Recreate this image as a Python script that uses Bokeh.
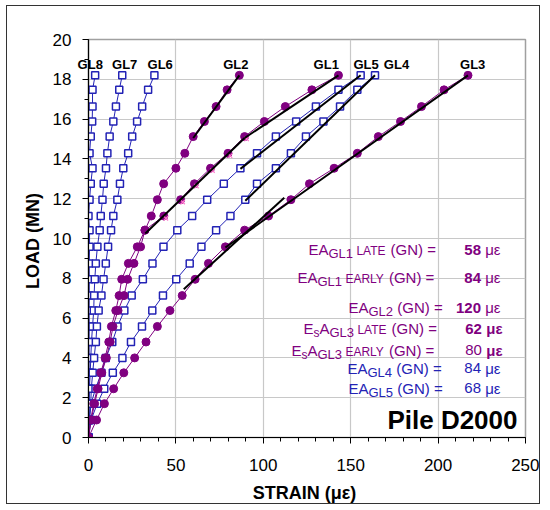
from bokeh.plotting import figure
from bokeh.models import Label, FixedTicker
from bokeh.embed import file_html
from bokeh.resources import INLINE

# ---------------- data ----------------
LOAD = [0, 0.88, 1.7, 2.45, 3.25, 4.0, 4.8, 5.58, 6.38, 7.13, 7.95, 8.75,
        9.58, 10.42, 11.13, 11.95, 12.75, 13.53, 14.28, 15.12, 15.88, 16.63, 17.47, 18.2]

GL1 = [0, 1.5, 3.5, 5.5, 7.6, 10.2, 12.4, 14.0, 16.9, 20.3, 22.4, 26.0,
       29.8, 32.3, 43.1, 52.7, 60.6, 69.8, 79.8, 89.3, 100.6, 112.6, 127.8, 143.0]
GL2 = [0, 1.2, 3.0, 5.0, 7.0, 9.5, 11.6, 13.1, 15.6, 17.5, 19.0, 22.8,
       27.9, 32.3, 35.9, 39.4, 43.0, 50.0, 55.1, 59.9, 66.3, 73.0, 79.3, 86.3]
GL3 = [0, 4.6, 9.1, 14.4, 20.2, 26.4, 32.9, 39.4, 46.6, 53.6, 61.0, 68.6,
       78.3, 89.3, 103.0, 115.8, 126.4, 140.5, 153.8, 165.8, 178.5, 190.5, 203.4, 217.1]
GL4 = [0, 1.5, 5.0, 9.0, 13.9, 19.4, 24.3, 30.6, 36.5, 42.6, 50.2, 57.9,
       64.6, 73.0, 81.2, 89.7, 96.4, 107.2, 115.8, 124.4, 134.4, 143.9, 153.8, 163.9]
GL5 = [0, 0.5, 1.5, 4.0, 7.4, 9.9, 13.6, 16.6, 20.5, 24.7, 31.1, 36.6,
       42.9, 50.8, 59.3, 67.9, 77.4, 86.9, 96.4, 107.2, 118.8, 130.1, 143.0, 155.7]
GL6 = [0, 0.4, 1.3, 1.6, 2.4, 3.2, 4.2, 4.8, 5.8, 7.4, 8.6, 9.9,
       11.2, 12.9, 14.2, 16.5, 18.0, 19.9, 22.7, 25.0, 27.8, 30.7, 34.1, 37.7]
GL7 = [0, 0.2, 0.3, 0.5, 1.0, 1.3, 1.7, 2.3, 3.0, 3.2, 3.6, 4.2,
       5.1, 6.4, 7.0, 8.0, 8.7, 10.0, 10.8, 12.1, 14.2, 15.7, 17.6, 19.3]
GL8 = [0, 0.2, 0.3, 0.3, 0.3, 0.3, 0.3, 0.4, 0.3, 0.4, 0.4, 0.4,
       0.6, 0.6, 0.0, 0.6, 1.3, 2.3, 0.6, 1.3, 2.1, 2.3, 2.3, 3.8]

# pink cross markers on part of GL1 (indices into LOAD)
GL1_PINK_IDX = [14, 15, 16, 17, 18, 19]

# fitted straight lines (strain pairs, load pairs)
FIT_GL1_LATE = ([89.3, 143.0], [15.05, 18.2])
FIT_GL1_EARLY = ([32.5, 89.3], [10.25, 15.05])
FIT_GL2 = ([59.9, 86.3], [15.05, 18.2])
FIT_GL3_LATE = ([78.3, 217.1], [9.55, 18.2])
FIT_GL3_EARLY = ([54.5, 112.0], [7.45, 12.05])
FIT_GL4 = ([89.7, 163.9], [11.9, 18.2])
FIT_GL5 = ([86.9, 155.7], [13.5, 18.2])

GL_NAMES = ["GL8", "GL7", "GL6", "GL2", "GL1", "GL5", "GL4", "GL3"]
GL_NAME_X = [1.0, 20.7, 41.0, 84.3, 136.0, 158.8, 176.2, 219.8]
GL_NAME_Y = 18.5

EA_VALUES = ["58", "84", "120", "62", "80", "84", "68"]

X_TICKS = [0, 50, 100, 150, 200, 250]
Y_TICKS = [0, 2, 4, 6, 8, 10, 12, 14, 16, 18, 20]

# ---------------- style ----------------
PURPLE = "#800080"
BLUE = "#2323B5"
PINK = "#FF77CC"
FONT = "Liberation Sans"

W, H = 534, 499
OX, OY = 7, 6                       # figure origin on page
FL, FR, FT, FB = 81, 518, 33, 432   # frame edges inside figure

p = figure(width=W, height=H, x_range=(0, 250), y_range=(0, 20),
           output_backend="svg", toolbar_location=None,
           min_border_left=FL, min_border_right=W - FR,
           min_border_top=FT, min_border_bottom=H - FB)
p.margin = (OY - 1, 0, 0, OX - 1)
p.styles = {"border": "1px solid #333333"}
p.outline_line_color = "#A0A0A0"
p.outline_line_width = 1.5
p.background_fill_color = "white"
p.border_fill_color = "white"

p.xaxis.ticker = FixedTicker(ticks=X_TICKS, minor_ticks=list(range(0, 251, 10)))
p.yaxis.ticker = FixedTicker(ticks=Y_TICKS, minor_ticks=list(range(0, 21, 1)))
p.xgrid.ticker = FixedTicker(ticks=X_TICKS)
p.ygrid.ticker = FixedTicker(ticks=Y_TICKS)
for g in (p.xgrid, p.ygrid):
    g.grid_line_color = "#C8C8C8"
    g.grid_line_width = 1.2

for ax in (p.xaxis, p.yaxis):
    ax.axis_line_color = "black"
    ax.axis_line_width = 1.2
    ax.major_tick_in = 0
    ax.major_tick_out = 6
    ax.minor_tick_in = 0
    ax.minor_tick_out = 4
    ax.major_tick_line_color = "black"
    ax.minor_tick_line_color = "black"
    ax.major_label_text_font = FONT
    ax.major_label_text_font_size = "17px"
    ax.major_label_text_color = "black"
    ax.axis_label_text_font = FONT
    ax.axis_label_text_font_size = "18px"
    ax.axis_label_text_font_style = "bold"
    ax.axis_label_text_color = "black"
p.xaxis.axis_label = "STRAIN  (με)"
p.yaxis.axis_label = "LOAD  (MN)"
p.xaxis.major_label_standoff = 15
p.yaxis.major_label_standoff = 11
p.xaxis.axis_label_standoff = 9
p.yaxis.axis_label_standoff = 7

# ---------------- series ----------------
for s in (GL8, GL7, GL6, GL5, GL4):
    p.line(s, LOAD, line_color=BLUE, line_width=1)
for s in (GL3, GL2, GL1):
    p.line(s, LOAD, line_color=PURPLE, line_width=1)

for s in (GL8, GL7, GL6, GL5, GL4):
    p.scatter(s, LOAD, marker="square", size=7, fill_color="white",
              line_color=BLUE, line_width=1.5)
for s in (GL3, GL2, GL1):
    p.scatter(s, LOAD, marker="circle", size=8, fill_color=PURPLE,
              line_color=PURPLE)
p.scatter([GL1[i] + 1.2 for i in GL1_PINK_IDX], [LOAD[i] - 0.12 for i in GL1_PINK_IDX],
          marker="x", size=6, line_color=PINK, line_width=1.2)

for fx, fy in (FIT_GL1_LATE, FIT_GL1_EARLY, FIT_GL2, FIT_GL3_LATE,
               FIT_GL3_EARLY, FIT_GL4, FIT_GL5):
    p.line(fx, fy, line_color="black", line_width=2)

# ---------------- text helpers ----------------
REG = {' ': 278, '(': 333, ')': 333, '=': 584, 'A': 667, 'E': 667, 'G': 778,
       'L': 556, 'N': 722, 'R': 722, 'T': 611, 'Y': 667, 's': 500,
       'μ': 576, 'ε': 446}
BLD = {' ': 278, 'μ': 611, 'ε': 489}
MID = 0.35   # distance from baseline to text middle, in em


def tw(t, size, bold):
    tab = BLD if bold else REG
    return sum(tab.get(c, 556) for c in t) * size / 1000.0


def X(px):
    return (px - OX - FL) * 250.0 / (FR - FL)


def Y(py):
    return (OY + FB - py) * 20.0 / (FB - FT)


def put(px, py, txt, size, bold, color, align="left"):
    """py is the text baseline in page pixels"""
    p.add_layout(Label(x=X(px), y=Y(py - MID * size), text=txt, text_font=FONT,
                       text_font_size=f"{size}px",
                       text_font_style="bold" if bold else "normal",
                       text_color=color, text_align=align,
                       text_baseline="middle"))


def flow(cx, py, txt, size, bold, color):
    """place text left-aligned at cx, honouring leading spaces; return new cx"""
    stripped = txt.lstrip(" ")
    cx += tw(txt[:len(txt) - len(stripped)], size, bold)
    put(cx, py, stripped, size, bold, color)
    return cx + tw(stripped, size, bold)


# gauge names above the curves; the one that overhangs the y axis goes in the
# top panel so it is not clipped by the frame
GL_SIZE = 13
for name, gx in zip(GL_NAMES, GL_NAME_X):
    gy_page = OY + FB - GL_NAME_Y * (FB - FT) / 20.0
    lbl = Label(x=gx, y=Y(gy_page - MID * GL_SIZE), text=name, text_font=FONT,
                text_font_size=f"{GL_SIZE}px", text_font_style="bold",
                text_align="center", text_baseline="middle", text_color="black")
    if gx - tw(name, GL_SIZE, True) / 2 * 250.0 / (FR - FL) < 0:
        p.add_layout(lbl, "above")
    else:
        p.add_layout(lbl)

LINES = [
    # start x, baseline, subscript, qualifier, num bold, unit bold, right edge, colour, E_s form
    (308, 255, "GL1", " LATE", True, False, 500, PURPLE, False),
    (297, 283, "GL1", " EARLY", True, False, 500, PURPLE, False),
    (348, 313, "GL2", "", True, False, 500, PURPLE, False),
    (303, 334, "GL3", " LATE", True, True, 502, PURPLE, True),
    (291, 356, "GL3", " EARLY", False, True, 502, PURPLE, True),
    (347, 374, "GL4", "", False, False, 500, BLUE, False),
    (348, 394, "GL5", "", False, False, 500, BLUE, False),
]
for (x0, base, sub, qual, nb, ub, right, col, es), num in zip(LINES, EA_VALUES):
    cx = x0
    if es:
        cx = flow(cx, base, "E", 15, False, col)
        cx = flow(cx, base + 3, "s", 12, False, col)
        cx = flow(cx, base, "A", 15, False, col)
    else:
        cx = flow(cx, base, "EA", 15, False, col)
    cx = flow(cx, base + 3, sub, 13, False, col)
    if qual:
        cx = flow(cx, base, qual, 12, False, col)
    cx = flow(cx, base, " (GN)", 15, False, col)
    cx = flow(cx, base, " =", 15, False, col)
    put(right, base, "με", 15, ub, col, "right")
    put(right - tw("με", 15, ub) - tw(" ", 15, False), base, num, 15, nb, col, "right")

put(517, 430, "Pile D2000", 26, True, "black", "right")

open("out.html", "w").write(file_html(p, INLINE))
